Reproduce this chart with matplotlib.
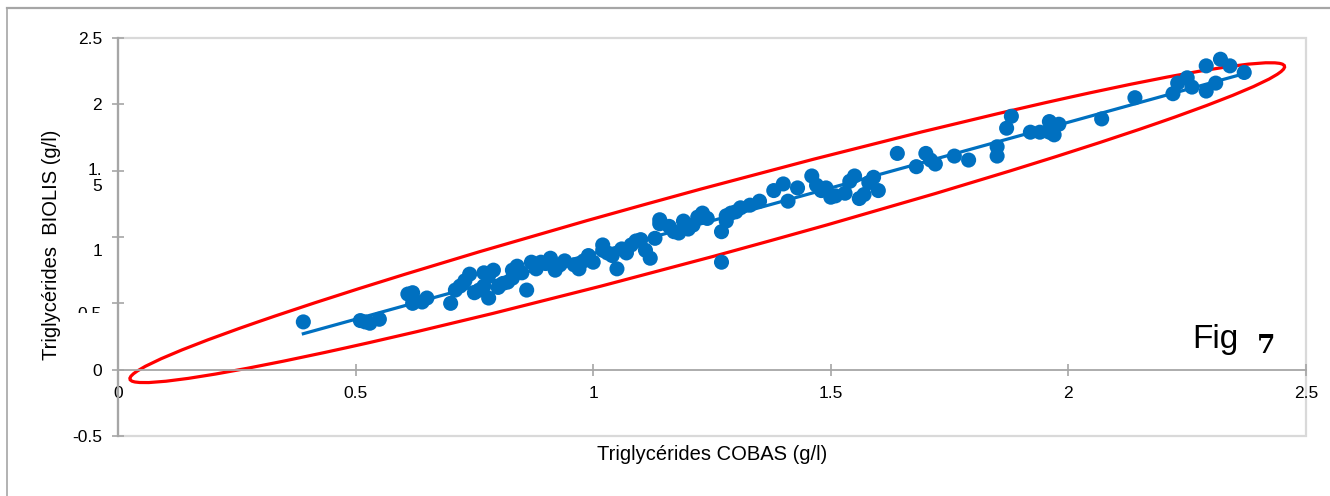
import matplotlib
matplotlib.use('Agg')
import matplotlib.pyplot as plt
import matplotlib.transforms as mtransforms
from matplotlib.patches import Ellipse, Rectangle
from matplotlib.lines import Line2D
import numpy as np

# Triglycérides COBAS (x) vs BIOLIS (y), g/l
cobas = [0.39, 0.51, 0.52, 0.53, 0.55, 0.61, 0.62, 0.62, 0.64, 0.65,
         0.70, 0.71, 0.72, 0.73, 0.74, 0.75, 0.76, 0.77, 0.77, 0.78,
         0.78, 0.79, 0.80, 0.81, 0.82, 0.83, 0.83, 0.84, 0.85, 0.86,
         0.87, 0.88, 0.89, 0.90, 0.91, 0.92, 0.93, 0.94, 0.96, 0.97,
         0.98, 0.99, 1.00, 1.02, 1.02, 1.03, 1.04, 1.05, 1.06, 1.07,
         1.08, 1.09, 1.10, 1.11, 1.12, 1.13, 1.14, 1.14, 1.16, 1.17,
         1.18, 1.19, 1.20, 1.21, 1.22, 1.23, 1.24, 1.27, 1.27, 1.28,
         1.28, 1.29, 1.30, 1.31, 1.33, 1.35, 1.38, 1.40, 1.41, 1.43,
         1.46, 1.47, 1.48, 1.49, 1.50, 1.51, 1.53, 1.54, 1.55, 1.56,
         1.57, 1.58, 1.59, 1.60, 1.64, 1.68, 1.70, 1.71, 1.72, 1.76,
         1.79, 1.85, 1.85, 1.87, 1.88, 1.92, 1.94, 1.96, 1.96, 1.97,
         1.98, 2.07, 2.14, 2.22, 2.23, 2.25, 2.26, 2.29, 2.29, 2.31,
         2.32, 2.34, 2.37]
biolis = [0.36, 0.37, 0.36, 0.35, 0.38, 0.57, 0.58, 0.50, 0.51, 0.54,
          0.50, 0.60, 0.63, 0.67, 0.72, 0.58, 0.60, 0.63, 0.73, 0.71,
          0.54, 0.75, 0.62, 0.65, 0.66, 0.69, 0.75, 0.78, 0.73, 0.60,
          0.81, 0.76, 0.81, 0.80, 0.84, 0.75, 0.79, 0.82, 0.79, 0.76,
          0.82, 0.86, 0.81, 0.90, 0.94, 0.88, 0.86, 0.76, 0.91, 0.88,
          0.94, 0.97, 0.98, 0.90, 0.84, 0.99, 1.13, 1.10, 1.08, 1.04,
          1.03, 1.12, 1.06, 1.09, 1.15, 1.18, 1.14, 1.04, 0.81, 1.12,
          1.16, 1.18, 1.19, 1.22, 1.24, 1.27, 1.35, 1.40, 1.27, 1.37,
          1.46, 1.39, 1.35, 1.37, 1.30, 1.31, 1.33, 1.42, 1.46, 1.29,
          1.32, 1.41, 1.45, 1.35, 1.63, 1.53, 1.63, 1.58, 1.55, 1.61,
          1.58, 1.68, 1.61, 1.82, 1.91, 1.79, 1.79, 1.79, 1.87, 1.77,
          1.85, 1.89, 2.05, 2.08, 2.16, 2.20, 2.13, 2.10, 2.29, 2.16,
          2.34, 2.29, 2.24]

# linear trendline
trend_slope = 0.99
trend_intercept = -0.115

# hand-drawn ellipse around the cloud (data units)
ellipse_center = (1.24, 1.108)
ellipse_semi_major = 1.701
ellipse_semi_minor = 0.19
ellipse_angle = 44.77

x_ticks = [0, 0.5, 1, 1.5, 2, 2.5]
x_tick_labels = ['0', '0.5', '1', '1.5', '2', '2.5']
y_ticks = [-0.5, 0, 0.5, 1, 1.5, 2, 2.5]
y_tick_labels = ['-0.5', '0', '0.5', '1', '1.\n5', '2', '2.5']

blue = '#0070C0'
red = '#FF0000'
axis_grey = '#A6A6A6'
border_grey = '#D9D9D9'

plt.rcParams['font.family'] = ['Liberation Sans', 'DejaVu Sans']

W, H = 1330, 496
fig = plt.figure(figsize=(W / 100, H / 100), dpi=100)
ax = fig.add_axes([118 / W, 60 / H, (1306 - 118) / W, (436 - 38) / H])
ax.set_xlim(0, 2.5)
ax.set_ylim(-0.5, 2.5)

# outer chart frame (only top and left edges visible)
fig.add_artist(Line2D([7 / W, 1], [1 - 8 / H, 1 - 8 / H], transform=fig.transFigure,
                      color=axis_grey, lw=1.6))
fig.add_artist(Line2D([7 / W, 7 / W], [0, 1 - 8 / H], transform=fig.transFigure,
                      color=axis_grey, lw=1.2))

# plot area border
ax.add_patch(Rectangle((0, 0), 1, 1, transform=ax.transAxes, fill=False,
                       ec=border_grey, lw=1.6, zorder=0.5, clip_on=False))
for side in ['top', 'right']:
    ax.spines[side].set_visible(False)
ax.spines['left'].set_color(axis_grey)
ax.spines['left'].set_linewidth(1.6)
ax.spines['bottom'].set_position(('data', 0))
ax.spines['bottom'].set_color(axis_grey)
ax.spines['bottom'].set_linewidth(1.3)

ell = Ellipse(ellipse_center, 2 * ellipse_semi_major, 2 * ellipse_semi_minor,
              angle=ellipse_angle, fill=False, ec=red, lw=2.3, zorder=2)
ax.add_patch(ell)

ax.scatter(cobas, biolis, s=118, color=blue, edgecolors='none', zorder=3)
xfit = np.array([min(cobas), max(cobas)])
ax.plot(xfit, trend_slope * xfit + trend_intercept, color=blue, lw=2.3, zorder=4)

ax.set_xticks(x_ticks, x_tick_labels)
ax.set_yticks(y_ticks, y_tick_labels)
ax.tick_params(axis='both', direction='inout', length=8, width=1.2, color=axis_grey,
               labelsize=12.5, pad=7.5)

# odd tick label placement as in the original
labels = ax.yaxis.get_ticklabels()
lab_1 = labels[y_ticks.index(1)]
lab_1.set_transform(lab_1.get_transform() + mtransforms.ScaledTranslation(0, -13 / 100, fig.dpi_scale_trans))
lab_15 = labels[y_ticks.index(1.5)]
lab_15.set_linespacing(1.05)
lab_15.set_transform(lab_15.get_transform() + mtransforms.ScaledTranslation(0, -6 / 100, fig.dpi_scale_trans))
lab_05 = labels[y_ticks.index(0.5)]
lab_05.set_transform(lab_05.get_transform() + mtransforms.ScaledTranslation(0, -10 / 100, fig.dpi_scale_trans))
clip = mtransforms.TransformedBbox(mtransforms.Bbox([[0, (H - 313) / 100], [1.17, (H - 250) / 100]]),
                                   fig.dpi_scale_trans)
lab_05.set_clip_box(clip)
lab_05.set_clip_on(True)

fig.text(712 / W, 1 - 455 / H, 'Triglycérides COBAS (g/l)', ha='center', va='center', fontsize=14.5)
fig.text(52 / W, 1 - 245 / H, 'Triglycérides  BIOLIS (g/l)', ha='center', va='center',
         rotation=90, fontsize=14.5)

fig.text(1192 / W, 1 - 348 / H, 'Fig', ha='left', va='baseline', fontsize=24)
fig.text(1257 / W, 1 - 353 / H, '7', ha='left', va='baseline', fontsize=19,
         fontweight='heavy', family=['DejaVu Serif', 'Liberation Serif'])

fig.savefig('out.png', dpi=100)
